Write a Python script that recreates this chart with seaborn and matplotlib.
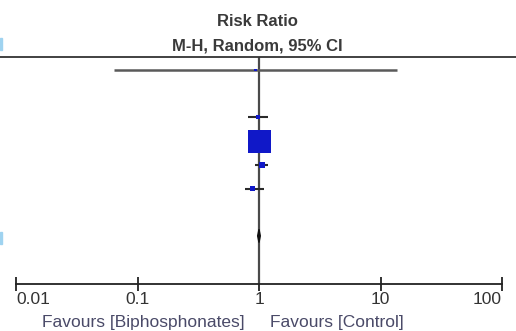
import matplotlib
matplotlib.use("Agg")
import matplotlib.pyplot as plt
import seaborn as sns
import pandas as pd
import numpy as np
from matplotlib.lines import Line2D
from matplotlib.patches import Polygon, Rectangle

# ---- data ----
rows = [0, 2, 3, 4, 5]
rr = [0.94, 0.98, 1.00, 1.06, 0.89]
lo = [0.064, 0.81, 0.93, 0.93, 0.77]
hi = [13.7, 1.19, 1.08, 1.19, 1.10]
weights = [1.0, 2.5, 86.0, 6.0, 4.5]
pooled_row = 7
pooled = [1.00, 0.975, 1.025]
ticks = [0.01, 0.1, 1, 10, 100]
tick_labels = ["0.01", "0.1", "1", "10", "100"]

df = pd.DataFrame({"row": rows, "rr": rr, "lo": lo, "hi": hi, "w": weights})

sns.set_theme(style="white")
plt.rcParams["font.family"] = ["Liberation Sans", "DejaVu Sans"]

W, H = 516, 331
fig = plt.figure(figsize=(W / 100, H / 100), dpi=100)
x0, x1 = 16, 502
ytop, ybot = 57, 284
ax = fig.add_axes([x0 / W, 1 - ybot / H, (x1 - x0) / W, (ybot - ytop) / H])
ax.set_xscale("log")
ax.set_xlim(0.01, 100)
ax.set_ylim(9.03, -0.55)

# CI lines
for i, r in df.iterrows():
    ax.hlines(r["row"], r["lo"], r["hi"], color="#2a2a2a" if i else "#5a5a5a",
              lw=1.5 if i else 1.8, zorder=2)

# squares sized by weight (main side ~23 px)
side_px = 23 * np.sqrt(df["w"] / max(weights))
side_pt = side_px * 72 / 100
sns.scatterplot(data=df, x="rr", y="row", marker="s", s=side_pt ** 2,
                color="#1018c8", edgecolor="none", linewidth=0, ax=ax, zorder=3,
                legend=False)

# reference line
ax.axvline(1, color="#4a4a4a", lw=1.6, zorder=1)

# pooled diamond
est, plo, phi = pooled
diamond = Polygon([[plo, pooled_row], [est, pooled_row - 0.28], [phi, pooled_row],
                   [est, pooled_row + 0.28]], closed=True, color="#111111", zorder=3)
ax.add_patch(diamond)

# axes styling
for s in ["left", "right", "top"]:
    ax.spines[s].set_visible(False)
ax.spines["bottom"].set_color("#222222")
ax.spines["bottom"].set_linewidth(1.3)
ax.set_yticks([])
ax.set_xticks(ticks)
ax.set_xticklabels(tick_labels)
ax.minorticks_off()
ax.tick_params(axis="x", direction="inout", length=10, width=1.3, color="#222222",
               labelsize=12.5, labelcolor="#333333", pad=1, bottom=True)
labels = ax.get_xticklabels()
labels[0].set_horizontalalignment("left")
labels[-1].set_horizontalalignment("right")
ax.set_xlabel("")
ax.set_ylabel("")

# top rule spanning whole width
fig.add_artist(Line2D([0, 1], [1 - ytop / H, 1 - ytop / H], color="#333333", lw=1.3))

# header
fig.text(257 / W, 1 - 21 / H, "Risk Ratio", ha="center", va="center",
         fontsize=12, fontweight="bold", color="#3a3a3a")
fig.text(257 / W, 1 - 46 / H, "M-H, Random, 95% CI", ha="center", va="center",
         fontsize=12, fontweight="bold", color="#3a3a3a")

# favours labels
fig.text(143 / W, 1 - 322 / H, "Favours [Biphosphonates]", ha="center", va="center",
         fontsize=12.5, color="#4a4a68")
fig.text(337 / W, 1 - 322 / H, "Favours [Control]", ha="center", va="center",
         fontsize=12.5, color="#4a4a68")

# cropped light-blue fragments at the left edge
fig.add_artist(Rectangle((0, 1 - 50 / H), 2 / W, 12 / H, color="#9fd3f0",
                         transform=fig.transFigure))
fig.add_artist(Rectangle((0, 1 - 244 / H), 2 / W, 12 / H, color="#9fd3f0",
                         transform=fig.transFigure))

fig.savefig("out.png", dpi=100)
